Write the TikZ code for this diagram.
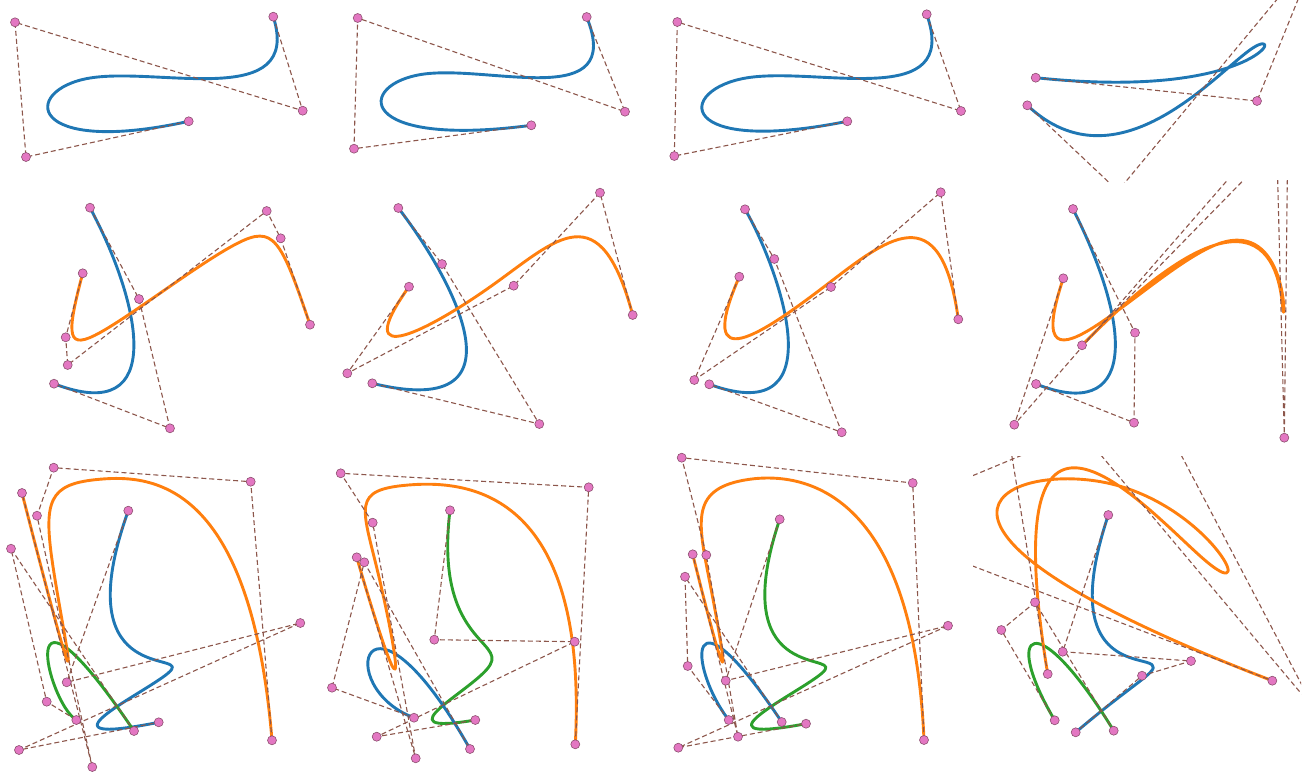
\documentclass[tikz,border=0pt]{standalone}
\usetikzlibrary{calc}
\definecolor{cBlue}{HTML}{1F77B4}
\definecolor{cOrange}{HTML}{FF7F0E}
\definecolor{cGreen}{HTML}{2CA02C}
\definecolor{cPoly}{HTML}{8C564B}
\definecolor{cPink}{HTML}{E377C2}
\definecolor{cEdge}{HTML}{8C4F6E}
\tikzset{
  poly/.style={draw=cPoly,dash pattern=on 5pt off 3pt,line width=1.1pt},
  ctrl/.style={circle,fill=cPink,draw=cEdge,line width=0.6pt,inner sep=0pt,minimum size=9pt},
  crv/.style={line width=2.9pt,line join=round,line cap=round}}
% clamped cubic B-splines with 5 and 6 control points, as Bezier pieces
\newcommand\bsq[5]{(#1) .. controls (#2) and ($(#2)!.5!(#3)$)
  .. ($.25*(#2)+.5*(#3)+.25*(#4)$) .. controls ($(#3)!.5!(#4)$) and (#4) .. (#5)}
\newcommand\bsv[6]{(#1) .. controls (#2) and ($(#2)!.5!(#3)$)
  .. ($.25*(#2)+.583333*(#3)+.166667*(#4)$) .. controls ($(#3)!.333333!(#4)$) and ($(#3)!.666667!(#4)$)
  .. ($.166667*(#3)+.583333*(#4)+.25*(#5)$) .. controls ($(#4)!.5!(#5)$) and (#5) .. (#6)}
\begin{document}
\begin{tikzpicture}[x=1pt,y=-1pt]
\useasboundingbox (0,0) rectangle (1311,776);

% ---- row 1
\coordinate (a0) at (273.3,16.7); \coordinate (a1) at (302.7,110.7);
\coordinate (a2) at (15,22.3); \coordinate (a3) at (26,157); \coordinate (a4) at (188.7,121.3);
\draw[crv,cBlue] \bsq{a0}{a1}{a2}{a3}{a4};
\draw[poly] (a0) -- (a1) -- (a2) -- (a3) -- (a4);
\foreach \p in {a0,a1,a2,a3,a4} \node[ctrl] (m\p) at (\p) {};

\coordinate (b0) at (586.7,17); \coordinate (b1) at (625,111.7);
\coordinate (b2) at (357.7,18); \coordinate (b3) at (354,148.7); \coordinate (b4) at (531.3,125.3);
\draw[crv,cBlue] \bsq{b0}{b1}{b2}{b3}{b4};
\draw[poly] (b0) -- (b1) -- (b2) -- (b3) -- (b4);
\foreach \p in {b0,b1,b2,b3,b4} \node[ctrl] (m\p) at (\p) {};

\coordinate (c0) at (926.7,14.3); \coordinate (c1) at (961,111);
\coordinate (c2) at (677.3,22); \coordinate (c3) at (674.3,156); \coordinate (c4) at (847.3,121.3);
\draw[crv,cBlue] \bsq{c0}{c1}{c2}{c3}{c4};
\draw[poly] (c0) -- (c1) -- (c2) -- (c3) -- (c4);
\foreach \p in {c0,c1,c2,c3,c4} \node[ctrl] (m\p) at (\p) {};

\begin{scope}
\clip (975,0) rectangle (1311,182);
\coordinate (d0) at (1035.7,77.7); \coordinate (d1) at (1257,101);
\coordinate (d2) at (1318,-50); \coordinate (d3) at (1118,191); \coordinate (d4) at (1027.3,105.3);
\draw[crv,cBlue] \bsq{d0}{d1}{d2}{d3}{d4};
\draw[poly] (d0) -- (d1) -- (d2) -- (d3) -- (d4);
\foreach \p in {d0,d1,d4} \node[ctrl] (m\p) at (\p) {};
\end{scope}

% ---- row 2
\coordinate (e0) at (90,207.7); \coordinate (e1) at (139,299);
\coordinate (e2) at (170,428.3); \coordinate (e3) at (54,383.7);
\coordinate (f0) at (82.7,273.3); \coordinate (f1) at (65.7,337.3); \coordinate (f2) at (67.7,365);
\coordinate (f3) at (266.7,211); \coordinate (f4) at (280.7,238.3); \coordinate (f5) at (310,324.7);
\draw[crv,cBlue] (e0) .. controls (e1) and (e2) .. (e3);
\draw[crv,cOrange] \bsv{f0}{f1}{f2}{f3}{f4}{f5};
\draw[poly] (e0) -- (e1) -- (e2) -- (e3);
\draw[poly] (f0) -- (f1) -- (f2) -- (f3) -- (f4) -- (f5);
\foreach \p in {e0,e1,e2,e3,f0,f1,f2,f3,f4,f5} \node[ctrl] (m\p) at (\p) {};

\coordinate (g0) at (398.3,208); \coordinate (g1) at (442,264);
\coordinate (g2) at (539.3,424); \coordinate (g3) at (372.3,383.3);
\coordinate (h0) at (409,286.7); \coordinate (h1) at (347.3,373.3); \coordinate (h2) at (513.7,285.7);
\coordinate (h3) at (600,192.7); \coordinate (h4) at (632.7,315);
\draw[crv,cBlue] (g0) .. controls (g1) and (g2) .. (g3);
\draw[crv,cOrange] \bsq{h0}{h1}{h2}{h3}{h4};
\draw[poly] (g0) -- (g1) -- (g2) -- (g3);
\draw[poly] (h0) -- (h1) -- (h2) -- (h3) -- (h4);
\foreach \p in {g0,g1,g2,g3,h0,h1,h2,h3,h4} \node[ctrl] (m\p) at (\p) {};

\coordinate (i0) at (745,209.3); \coordinate (i1) at (774.3,259);
\coordinate (i2) at (841.7,432.3); \coordinate (i3) at (709.3,384.3);
\coordinate (j0) at (739.3,276.7); \coordinate (j1) at (694.3,380); \coordinate (j2) at (831,287);
\coordinate (j3) at (940.7,192.3); \coordinate (j4) at (958.3,319.3);
\draw[crv,cBlue] (i0) .. controls (i1) and (i2) .. (i3);
\draw[crv,cOrange] \bsq{j0}{j1}{j2}{j3}{j4};
\draw[poly] (i0) -- (i1) -- (i2) -- (i3);
\draw[poly] (j0) -- (j1) -- (j2) -- (j3) -- (j4);
\foreach \p in {i0,i1,i2,i3,j0,j1,j2,j3,j4} \node[ctrl] (m\p) at (\p) {};

\begin{scope}
\clip (975,180) rectangle (1311,450);
\coordinate (k0) at (1073,209); \coordinate (k1) at (1135,332.7);
\coordinate (k2) at (1134,422.7); \coordinate (k3) at (1036,384);
\coordinate (l0) at (1063.3,278.3); \coordinate (l1) at (1014.3,424.7); \coordinate (l2) at (1288.1,110.5);
\coordinate (l3) at (1284.3,437.7); \coordinate (l4) at (1276.8,146.1); \coordinate (l5) at (1082,345.3);
\draw[crv,cBlue] (k0) .. controls (k1) and (k2) .. (k3);
\draw[crv,cOrange] \bsv{l0}{l1}{l2}{l3}{l4}{l5};
\draw[poly] (k0) -- (k1) -- (k2) -- (k3);
\draw[poly] (l0) -- (l1) -- (l2) -- (l3) -- (l4) -- (l5);
\foreach \p in {k0,k1,k2,k3,l0,l1,l3,l5} \node[ctrl] (m\p) at (\p) {};
\end{scope}

% ---- row 3
\coordinate (n0) at (128.3,510.7); \coordinate (n1) at (66.7,682.3); \coordinate (n2) at (300.3,623);
\coordinate (n3) at (19,750); \coordinate (n4) at (158.7,722.3);
\coordinate (o0) at (76.3,720); \coordinate (o1) at (46.7,701.7);
\coordinate (o2) at (11,548.7); \coordinate (o3) at (134,731);
\coordinate (p0) at (272,740.3); \coordinate (p1) at (250.7,481.7); \coordinate (p2) at (53.7,467.7);
\coordinate (p3) at (37,515.7); \coordinate (p4) at (92.3,767); \coordinate (p5) at (22,493);
\draw[crv,cBlue] \bsq{n0}{n1}{n2}{n3}{n4};
\draw[crv,cGreen] (o0) .. controls (o1) and (o2) .. (o3);
\draw[crv,cOrange] \bsv{p0}{p1}{p2}{p3}{p4}{p5};
\draw[poly] (n0) -- (n1) -- (n2) -- (n3) -- (n4);
\draw[poly] (o0) -- (o1) -- (o2) -- (o3);
\draw[poly] (p0) -- (p1) -- (p2) -- (p3) -- (p4) -- (p5);
\foreach \p in {n0,n1,n2,n3,n4,o0,o1,o2,o3,p0,p1,p2,p3,p4,p5} \node[ctrl] (m\p) at (\p) {};

\coordinate (q0) at (450,510.3); \coordinate (q1) at (434.3,639.7); \coordinate (q2) at (574.7,641.7);
\coordinate (q3) at (376.7,736.7); \coordinate (q4) at (475.3,720);
\coordinate (r0) at (414,717.7); \coordinate (r1) at (332,687.7);
\coordinate (r2) at (364.3,562.3); \coordinate (r3) at (470,749);
\coordinate (s0) at (575.3,744.3); \coordinate (s1) at (588.7,487.3); \coordinate (s2) at (340.7,473.3);
\coordinate (s3) at (372.7,522.7); \coordinate (s4) at (415.7,758.3); \coordinate (s5) at (356.7,557.3);
\draw[crv,cGreen] \bsq{q0}{q1}{q2}{q3}{q4};
\draw[crv,cBlue] (r0) .. controls (r1) and (r2) .. (r3);
\draw[crv,cOrange] \bsv{s0}{s1}{s2}{s3}{s4}{s5};
\draw[poly] (q0) -- (q1) -- (q2) -- (q3) -- (q4);
\draw[poly] (r0) -- (r1) -- (r2) -- (r3);
\draw[poly] (s0) -- (s1) -- (s2) -- (s3) -- (s4) -- (s5);
\foreach \p in {q0,q1,q2,q3,q4,r0,r1,r2,r3,s0,s1,s2,s3,s4,s5} \node[ctrl] (m\p) at (\p) {};

\coordinate (t0) at (779.7,519.3); \coordinate (t1) at (725.7,680.7); \coordinate (t2) at (948,625.7);
\coordinate (t3) at (678.3,747.7); \coordinate (t4) at (806,723.7);
\coordinate (u0) at (728.7,720); \coordinate (u1) at (687.7,666);
\coordinate (u2) at (685,576.7); \coordinate (u3) at (781.7,722);
\coordinate (v0) at (924,740); \coordinate (v1) at (912.7,483); \coordinate (v2) at (681.7,457.7);
\coordinate (v3) at (706.3,555); \coordinate (v4) at (738,736.7); \coordinate (v5) at (692.7,554.3);
\draw[crv,cGreen] \bsq{t0}{t1}{t2}{t3}{t4};
\draw[crv,cBlue] (u0) .. controls (u1) and (u2) .. (u3);
\draw[crv,cOrange] \bsv{v0}{v1}{v2}{v3}{v4}{v5};
\draw[poly] (t0) -- (t1) -- (t2) -- (t3) -- (t4);
\draw[poly] (u0) -- (u1) -- (u2) -- (u3);
\draw[poly] (v0) -- (v1) -- (v2) -- (v3) -- (v4) -- (v5);
\foreach \p in {t0,t1,t2,t3,t4,u0,u1,u2,u3,v0,v1,v2,v3,v4,v5} \node[ctrl] (m\p) at (\p) {};

\begin{scope}
\clip (973,456) rectangle (1301,776);
\coordinate (w0) at (1108.3,515); \coordinate (w1) at (1062.7,651.7); \coordinate (w2) at (1191,661);
\coordinate (w3) at (1142,675.7); \coordinate (w4) at (1075.7,732.3);
\coordinate (x0) at (1054.7,720.3); \coordinate (x1) at (1001.3,630);
\coordinate (x2) at (1035,602.3); \coordinate (x3) at (1113.7,730.7);
\coordinate (y0) at (1047.7,674); \coordinate (y1) at (990,323); \coordinate (y2) at (1315,710);
\coordinate (y3) at (1152.7,400.8); \coordinate (y4) at (859.6,522.7); \coordinate (y5) at (1272.3,680.7);
\draw[crv,cBlue] \bsq{w0}{w1}{w2}{w3}{w4};
\draw[crv,cGreen] (x0) .. controls (x1) and (x2) .. (x3);
\draw[crv,cOrange] \bsv{y0}{y1}{y2}{y3}{y4}{y5};
\draw[poly] (w0) -- (w1) -- (w2) -- (w3) -- (w4);
\draw[poly] (x0) -- (x1) -- (x2) -- (x3);
\draw[poly] (y0) -- (y1) -- (y2) -- (y3) -- (y4) -- (y5);
\foreach \p in {w0,w1,w2,w3,w4,x0,x1,x2,x3,y0,y5} \node[ctrl] (m\p) at (\p) {};
\end{scope}
\end{tikzpicture}
\end{document}
